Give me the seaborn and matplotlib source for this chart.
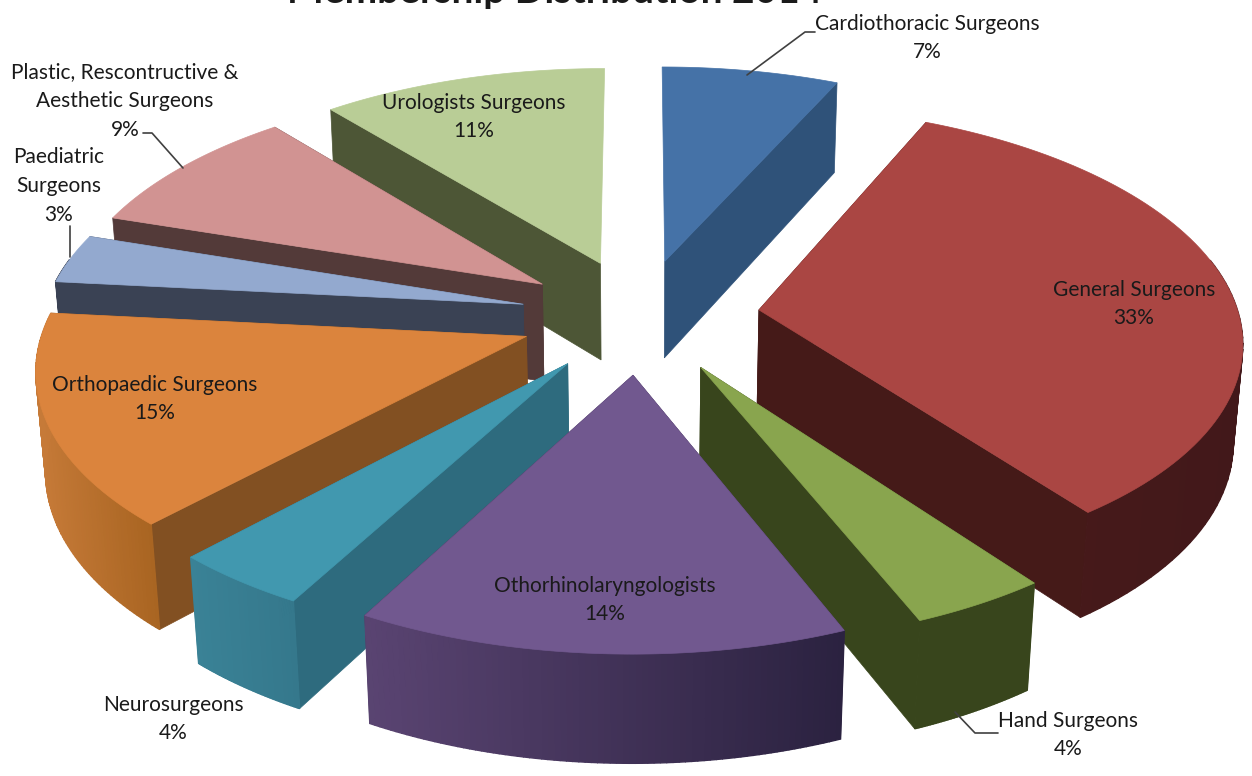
import numpy as np
import matplotlib.pyplot as plt
from matplotlib.colors import to_rgb
from matplotlib.patches import Polygon
import seaborn as sns

# Datos del grafico
categorias = ["Cardiothoracic Surgeons", "General Surgeons", "Hand Surgeons", "Othorhinolaryngologists",
              "Neurosurgeons", "Orthopaedic Surgeons", "Paediatric Surgeons",
              "Plastic, Rescontructive & Aesthetic Surgeons", "Urologists Surgeons"]
# porcentajes estimados; las etiquetas muestran el valor redondeado
porcentajes = [6.8, 33, 4, 14.2, 4, 14.6, 3.4, 9, 11]

colores_top = ["#4572A7", "#AA4643", "#89A54E", "#71588F", "#4198AF", "#DB843D", "#93A9CF", "#D19392", "#B9CD96"]
colores_radial = ["#2F5279", "#451A18", "#38451C", "#3A2D4E", "#2E6B7E", "#825022", "#3A4254", "#533A39", "#4D5636"]
pared_izq = ["#2F5279", "#4A1B19", "#38451C", "#5A4472", "#3A8296", "#C67A38", "#3A4254", "#533A39", "#4D5636"]
pared_der = ["#2F5279", "#42181A", "#38451C", "#2B2240", "#35788C", "#A96522", "#3A4254", "#533A39", "#4D5636"]

# Parametros de la proyeccion
EXPLOSION = 0.25
ESCALA_X = 480
ESCALA_Y = 230
PROFUNDIDAD = 100
PERSPECTIVA = 0.12
PERSPECTIVA_Z = 0.016
CX, CY = 640, 316


def proyectar(x, y, z=0.0):
    w = 1 + PERSPECTIVA * y + PERSPECTIVA_Z * z
    return np.column_stack([CX + ESCALA_X * x / w, CY - (ESCALA_Y * y - PROFUNDIDAD * z) / w])


sns.set_theme(style="white")
plt.rcParams['font.family'] = ['Lato', 'DejaVu Sans']

fig, ax = plt.subplots(figsize=(12.52, 7.76), dpi=100)
fig.subplots_adjust(left=0, right=1, top=1, bottom=0)
ax.set_xlim(0, 1252)
ax.set_ylim(776, 0)
ax.axis("off")

acum = np.cumsum([0] + porcentajes) * 3.6
inicios, finales = np.radians(acum[:-1]), np.radians(acum[1:])
medios = (inicios + finales) / 2

# primero las porciones de atras
orden = np.argsort(-np.cos(medios))
for i in orden:
    ox = EXPLOSION * np.sin(medios[i])
    oy = EXPLOSION * np.cos(medios[i])
    th = np.linspace(inicios[i], finales[i], 80)
    xs = ox + np.sin(th)
    ys = oy + np.cos(th)

    # caras radiales (la que queda de canto arriba no se ve)
    for a in (inicios[i], finales[i]):
        if abs(np.sin(a)) < 0.05:
            continue
        x2, y2 = ox + np.sin(a), oy + np.cos(a)
        arriba = proyectar(np.array([ox, x2]), np.array([oy, y2]))
        abajo = proyectar(np.array([x2, ox]), np.array([y2, oy]), 1.0)
        ax.add_patch(Polygon(np.vstack([arriba, abajo]), fc=colores_radial[i], ec=colores_radial[i], lw=0.5))

    # pared exterior con degradado, solo la parte que mira al frente
    arriba = proyectar(xs, ys)
    abajo = proyectar(xs, ys, 1.0)
    c1 = np.array(to_rgb(pared_izq[i]))
    c2 = np.array(to_rgb(pared_der[i]))
    bx = arriba[:, 0]
    for j in range(len(th) - 1):
        if np.cos(th[j]) > 0.2 and np.cos(th[j + 1]) > 0.2:
            continue
        t = np.clip((bx[j] - bx.min()) / max(bx.max() - bx.min(), 1), 0, 1)
        col = c1 + (c2 - c1) * t
        ax.add_patch(Polygon(np.vstack([arriba[j:j + 2], abajo[j:j + 2][::-1]]), fc=col, ec=col, lw=1.0))

    # tapa
    tapa = proyectar(np.r_[ox, xs], np.r_[oy, ys])
    ax.add_patch(Polygon(tapa, fc=colores_top[i], ec=colores_top[i], lw=0.5))

# lineas guia
guias = [([815, 805, 747], [32, 32, 75]), ([143, 152, 183], [133, 133, 168]),
         ([70, 70], [226, 257]), ([998, 975, 955], [733, 733, 712])]
for gx, gy in guias:
    ax.plot(gx, gy, color="#404040", lw=1.2, zorder=5)

# etiquetas
etiquetas = [
    (927, 38, "Cardiothoracic Surgeons\n7%"),
    (1134, 304, "General Surgeons\n33%"),
    (1068, 735, "Hand Surgeons\n4%"),
    (605, 600, "Othorhinolaryngologists\n14%"),
    (173, 719, "Neurosurgeons\n4%"),
    (155, 399, "Orthopaedic Surgeons\n15%"),
    (59, 186, "Paediatric\nSurgeons\n3%"),
    (125, 101, "Plastic, Rescontructive &\nAesthetic Surgeons\n9%"),
    (474, 117, "Urologists Surgeons\n11%"),
]
for x, y, txt in etiquetas:
    ax.text(x, y, txt, ha="center", va="center", fontsize=15, color="#1a1a1a", linespacing=1.55, zorder=6)

ax.text(555, 3, "Membership Distribution 2014", ha="center", va="baseline", fontsize=28,
        fontweight="bold", color="#1a1a1a", zorder=6)

fig.savefig("out.png", dpi=100)
